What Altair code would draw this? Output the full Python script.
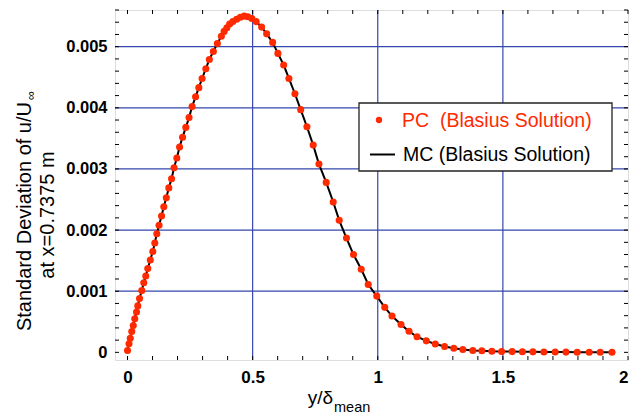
import altair as alt
import pandas as pd
import numpy as np

# Normalised wall distance y/delta_mean
y_over_delta = [
    0.000, 0.006, 0.011, 0.017, 0.023, 0.029, 0.036, 0.041, 0.048, 0.057,
    0.065, 0.073, 0.081, 0.091, 0.101, 0.109, 0.117, 0.126, 0.136, 0.145,
    0.155, 0.165, 0.176, 0.186, 0.197, 0.208, 0.220, 0.233, 0.246, 0.258,
    0.272, 0.285, 0.298, 0.313, 0.327, 0.343, 0.359, 0.375, 0.386, 0.397,
    0.408, 0.421, 0.436, 0.451, 0.466, 0.481, 0.497, 0.514, 0.536, 0.556,
    0.580, 0.601, 0.624, 0.645, 0.669, 0.692, 0.717, 0.742, 0.765, 0.794,
    0.822, 0.846, 0.875, 0.903, 0.934, 0.962, 0.996, 1.028, 1.057, 1.093,
    1.125, 1.157, 1.194, 1.230, 1.267, 1.304, 1.340, 1.380, 1.416, 1.456,
    1.495, 1.537, 1.578, 1.620, 1.664, 1.709, 1.752, 1.797, 1.845, 1.889,
    1.936,
]

# Standard deviation of u/U_inf at x = 0.7375 m (PC and MC agree)
sigma_u = [
    0.00003, 0.00014, 0.00023, 0.00034, 0.00044, 0.00055, 0.00066, 0.00076, 0.00088, 0.00101,
    0.00114, 0.00125, 0.00137, 0.00151, 0.00165, 0.00179, 0.00194, 0.00208, 0.00223, 0.00238,
    0.00253, 0.00269, 0.00284, 0.00302, 0.00318, 0.00336, 0.00352, 0.00368, 0.00384, 0.00402,
    0.00418, 0.00433, 0.00448, 0.00464, 0.00479, 0.00492, 0.00505, 0.00517, 0.00525, 0.00531,
    0.00537, 0.00541, 0.00545, 0.00548, 0.00550, 0.00549, 0.00546, 0.00541, 0.00532, 0.00521,
    0.00507, 0.00489, 0.00470, 0.00448, 0.00423, 0.00397, 0.00369, 0.00339, 0.00308, 0.00278,
    0.00246, 0.00216, 0.00187, 0.00160, 0.00136, 0.00111, 0.00092, 0.000736, 0.000594, 0.000455,
    0.000344, 0.000256, 0.000188, 0.000136, 0.000096, 0.000066, 0.000046, 0.000030, 0.000026, 0.000018,
    0.000014, 0.000012, 0.000010, 0.000008, 0.000006, 0.000005, 0.000004, 0.000003, 0.000002, 0.000002,
    0.000001,
]

x_ticks = [0, 0.5, 1, 1.5, 2]
y_ticks = [0, 0.001, 0.002, 0.003, 0.004, 0.005]
x_grid = [0.5, 1, 1.5]
y_grid = [0.001, 0.002, 0.003, 0.004, 0.005]
x_minor = [round(0.1 * i, 1) for i in range(0, 21)]
y_minor = [round(0.0002 * i, 4) for i in range(0, 29)]

RED = "#FF2A00"
GRID = "#3547AC"
FONT = "Liberation Sans"
W, H = 513, 350

df = pd.DataFrame({"x": y_over_delta, "s": sigma_u})

xs = alt.Scale(domain=[-0.05, 2.0], nice=False, zero=False)
ys = alt.Scale(domain=[-0.000125, 0.0056], nice=False, zero=False)

x_axis = alt.Axis(values=x_ticks, format="~g", title=None, grid=False, ticks=False,
                  domain=False, labelFont=FONT, labelFontSize=17, labelFontWeight="bold",
                  labelColor="black", labelPadding=9)
y_axis = alt.Axis(values=y_ticks, format="~g", title=None, grid=False, ticks=False,
                  domain=False, labelFont=FONT, labelFontSize=16.5, labelFontWeight="bold",
                  labelColor="black", labelPadding=8)

# gridlines
vgrid = alt.Chart(pd.DataFrame({"g": x_grid})).mark_rule(color=GRID, strokeWidth=1.2).encode(
    x=alt.X("g:Q", scale=xs, axis=x_axis))
hgrid = alt.Chart(pd.DataFrame({"g": y_grid})).mark_rule(color=GRID, strokeWidth=1.2).encode(
    y=alt.Y("g:Q", scale=ys, axis=y_axis))

# inward minor ticks on all four sides
tick_style = dict(color="black", strokeWidth=1)
xt = pd.DataFrame({"t": x_minor})
yt = pd.DataFrame({"t": y_minor})
ticks_bottom = alt.Chart(xt).mark_rule(**tick_style).encode(
    x=alt.X("t:Q", scale=xs), y=alt.value(H), y2=alt.value(H - 4))
ticks_top = alt.Chart(xt).mark_rule(**tick_style).encode(
    x=alt.X("t:Q", scale=xs), y=alt.value(0), y2=alt.value(4))
ticks_left = alt.Chart(yt).mark_rule(**tick_style).encode(
    y=alt.Y("t:Q", scale=ys), x=alt.value(0), x2=alt.value(4))
ticks_right = alt.Chart(yt).mark_rule(**tick_style).encode(
    y=alt.Y("t:Q", scale=ys), x=alt.value(W), x2=alt.value(W - 4))

# MC curve and PC points
mc_line = alt.Chart(df).mark_line(color="black", strokeWidth=2).encode(
    x=alt.X("x:Q", scale=xs), y=alt.Y("s:Q", scale=ys))
pc_pts = alt.Chart(df).mark_point(filled=True, color=RED, opacity=1, size=50, shape="circle").encode(
    x=alt.X("x:Q", scale=xs), y=alt.Y("s:Q", scale=ys))

# legend box
one = pd.DataFrame({"k": [0]})
leg_box = alt.Chart(one).mark_rect(fill="white", stroke="#222222", strokeWidth=1.3).encode(
    x=alt.value(244), x2=alt.value(497), y=alt.value(93), y2=alt.value(161))
leg_dot = alt.Chart(one).mark_point(filled=True, color=RED, opacity=1, size=40, shape="circle").encode(
    x=alt.value(264), y=alt.value(110))
leg_line = alt.Chart(one).mark_rule(color="black", strokeWidth=2).encode(
    x=alt.value(255), x2=alt.value(280), y=alt.value(144.5))


def label(text, x, y, size, color="black", angle=0, align="left", weight="normal"):
    params = dict(font=FONT, fontSize=size, color=color, align=align,
                  baseline="alphabetic", fontWeight=weight)
    if angle:
        params["angle"] = angle
    return alt.Chart(pd.DataFrame({"t": [text]})).mark_text(**params).encode(
        text="t:N", x=alt.value(x), y=alt.value(y))


leg_pc = label("PC\u00a0 (Blasius Solution)", 287, 117, 19.5, color=RED)
leg_mc = label("MC (Blasius Solution)", 288, 151, 19.5)

# axis titles with sub-scripts
ytitle1 = label("Standard Deviation of u/U", -84, 92, 20, angle=270, align="right")
ytitle_sub = label("\u221e", -80, 90, 12.5, angle=270, align="left")
ytitle2 = label("at x=0.7375 m", -61, 205, 20, angle=270, align="center")
xtitle = label("y/\u03b4", 218, 394, 19, align="right")
xtitle_sub = label("mean", 219, 402, 14.5, align="left")

chart = alt.layer(
    vgrid, hgrid, ticks_bottom, ticks_top, ticks_left, ticks_right,
    mc_line, pc_pts, leg_box, leg_dot, leg_line, leg_pc, leg_mc,
    ytitle1, ytitle_sub, ytitle2, xtitle, xtitle_sub,
).properties(
    width=W, height=H,
    autosize=alt.AutoSizeParams(type="none"),
    padding={"left": 115, "top": 10, "right": 7, "bottom": 54},
).configure_view(
    stroke="black", strokeWidth=1
).configure(background="white")

chart.save("out.html", embed_options={"renderer": "svg", "actions": False})
